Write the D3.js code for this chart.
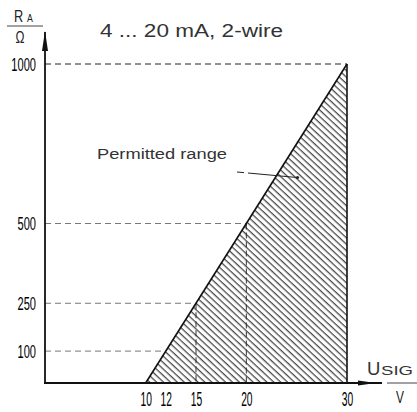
<!DOCTYPE html>
<html><head><meta charset="utf-8">
<script src="https://cdn.jsdelivr.net/npm/d3@7"></script>
<style>html,body{margin:0;padding:0;background:#fff}svg{display:block}</style>
</head><body>
<script>
// ---- data ----
const xTicks = [10, 12, 15, 20, 30];          // U_SIG / V
const yTicks = [100, 250, 500, 1000];         // R_A / Ω
const boundaryV = [10, 30];                   // permitted-range limit line (V)
const boundaryR = [0, 1000];                  // (Ω)
const guideV = [12, 15, 20, 30];              // guide points on the limit line
const guideR = [100, 250, 500, 1000];
const guideVertical = [false, true, true, false];
const titleText = "4 ... 20 mA, 2-wire";
const regionLabel = "Permitted range";

const W = 417, H = 412;
const svg = d3.select("body").append("svg").attr("width", W).attr("height", H);
const x = d3.scaleLinear().domain([0, 30]).range([45, 347]);
const y = d3.scaleLinear().domain([0, 1000]).range([383, 64]);

// hatch pattern
const defs = svg.append("defs");
const pat = defs.append("pattern").attr("id", "hatch").attr("patternUnits", "userSpaceOnUse")
  .attr("width", 4.7).attr("height", 10).attr("patternTransform", "rotate(-47)");
pat.append("line").attr("x1", 1.2).attr("y1", 0).attr("x2", 1.2).attr("y2", 10)
  .attr("stroke", "#2a2a2a").attr("stroke-width", 1.1);

// permitted region
const region = [[boundaryV[0], boundaryR[0]], [boundaryV[1], boundaryR[1]], [boundaryV[1], boundaryR[0]]];
svg.append("path").attr("d", d3.line().x(d => x(d[0])).y(d => y(d[1]))(region) + "Z")
  .attr("fill", "url(#hatch)").attr("stroke", "none");

// dashed guides
const guides = guideV.map((v, i) => ({v, r: guideR[i], vert: guideVertical[i]}));
svg.selectAll(".gh").data(guides).enter().append("line")
  .attr("x1", x(0)).attr("x2", d => x(d.v)).attr("y1", d => y(d.r)).attr("y2", d => y(d.r))
  .attr("stroke", d => d.r === 1000 ? "#222" : "#777").attr("stroke-width", 1)
  .attr("stroke-dasharray", "6,4");
svg.selectAll(".gv").data(guides.filter(d => d.vert)).enter().append("line")
  .attr("x1", d => x(d.v)).attr("x2", d => x(d.v)).attr("y1", d => y(d.r)).attr("y2", y(0))
  .attr("stroke", "#333").attr("stroke-width", 1).attr("stroke-dasharray", "6,3");

// limit line and right edge
svg.append("line").attr("x1", x(boundaryV[0])).attr("y1", y(boundaryR[0]))
  .attr("x2", x(boundaryV[1])).attr("y2", y(boundaryR[1])).attr("stroke", "#111").attr("stroke-width", 1.6);
svg.append("line").attr("x1", x(boundaryV[1])).attr("y1", y(boundaryR[1]))
  .attr("x2", x(boundaryV[1])).attr("y2", y(0)).attr("stroke", "#111").attr("stroke-width", 1.6);

// axes
svg.append("line").attr("x1", x(0)).attr("y1", y(0)).attr("x2", x(0)).attr("y2", 32)
  .attr("stroke", "#111").attr("stroke-width", 1.8);
svg.append("path").attr("d", `M${x(0)},31 L${x(0) - 3},51 L${x(0) + 3},51 Z`).attr("fill", "#111");
svg.append("line").attr("x1", x(0) - 1).attr("y1", y(0)).attr("x2", 382).attr("y2", y(0))
  .attr("stroke", "#111").attr("stroke-width", 2);
svg.append("path").attr("d", `M376,${y(0)} L358,${y(0) - 2.6} L358,${y(0) + 2.6} Z`).attr("fill", "#111");

// tick labels (condensed)
const condensed = (sel, fs) => sel.attr("font-family", "Liberation Sans, Arial, sans-serif")
  .attr("font-size", fs).attr("fill", "#000");
svg.selectAll(".yl").data(yTicks).enter().append("text")
  .attr("transform", d => `translate(36,${y(d) + 6.8}) scale(0.6,1)`)
  .attr("text-anchor", "end").text(d => d).call(condensed, 18.5);
svg.selectAll(".xl").data(xTicks).enter().append("text")
  .attr("transform", d => `translate(${x(d) + 0.5},405.5) scale(0.5,1)`)
  .attr("text-anchor", "middle").text(d => d).call(condensed, 20.5);

// axis titles
const ga = svg.append("g").attr("font-family", "Liberation Sans, Arial, sans-serif").attr("fill", "#222");
ga.append("text").attr("transform", "translate(14,22) scale(0.75,1)").attr("font-size", 17).text("R");
ga.append("text").attr("transform", "translate(27,22) scale(0.8,1)").attr("font-size", 11).text("A");
ga.append("line").attr("x1", 7).attr("x2", 43).attr("y1", 26).attr("y2", 26).attr("stroke", "#444").attr("stroke-width", 1);
ga.append("text").attr("transform", "translate(15.5,43) scale(0.75,1)").attr("font-size", 16).text("Ω");

ga.append("text").attr("x", 367).attr("y", 375).attr("font-size", 18.5).attr("fill", "#333").text("U");
ga.append("text").attr("x", 381).attr("y", 375).attr("font-size", 13.5).attr("fill", "#333")
  .attr("textLength", 32).attr("lengthAdjust", "spacingAndGlyphs").text("SIG");
ga.append("line").attr("x1", 387).attr("x2", 417).attr("y1", 383).attr("y2", 383).attr("stroke", "#444").attr("stroke-width", 1);
ga.append("text").attr("transform", "translate(400,403) scale(0.7,1)").attr("text-anchor", "middle")
  .attr("font-size", 17).attr("fill", "#222").text("V");

// title
svg.append("text").attr("x", 100).attr("y", 36.5).attr("font-family", "Liberation Sans, Arial, sans-serif")
  .attr("font-size", 17.5).attr("fill", "#333").attr("textLength", 183).attr("lengthAdjust", "spacingAndGlyphs")
  .text(titleText);

// region label + leader
svg.append("text").attr("x", 97).attr("y", 159).attr("font-family", "Liberation Sans, Arial, sans-serif")
  .attr("font-size", 15.5).attr("fill", "#333").attr("textLength", 130).attr("lengthAdjust", "spacingAndGlyphs")
  .text(regionLabel);
svg.append("line").attr("x1", 237).attr("y1", 172).attr("x2", 297).attr("y2", 177.5)
  .attr("stroke", "#222").attr("stroke-width", 1).attr("stroke-dasharray", "7,4,60");
svg.append("circle").attr("cx", 297.5).attr("cy", 177.5).attr("r", 1.6).attr("fill", "#222");
</script>
</body></html>
